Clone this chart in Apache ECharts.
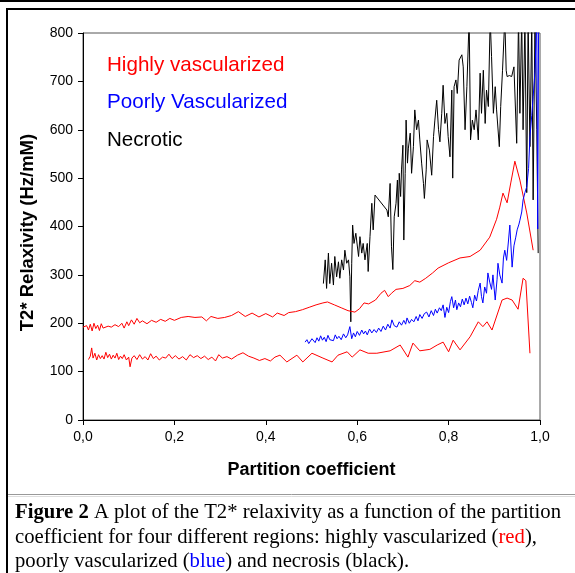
<!DOCTYPE html>
<html>
<head>
<meta charset="utf-8">
<script src="https://cdn.jsdelivr.net/npm/echarts@6/dist/echarts.min.js"></script>
<style>
  html, body { margin: 0; padding: 0; background: #fff; }
  #chart { width: 575px; height: 573px; }
</style>
</head>
<body>
<div id="chart"></div>
<script>
// values: [partition coefficient, relaxivity]
const xTicks = [0, 0.2, 0.4, 0.6, 0.8, 1.0];
const yTicks = [0, 100, 200, 300, 400, 500, 600, 700, 800];

const legendNames = ["Highly vascularized", "Poorly Vascularized", "Necrotic"];
const legendColors = ["#ff0000", "#0000ff", "#000000"];

const highlyUpper = [
  [0.000,192],[0.004,188],[0.008,195],[0.012,186],[0.016,198],[0.020,184],[0.024,200],[0.028,189],
  [0.032,196],[0.036,185],[0.040,199],[0.044,190],[0.048,187],[0.055,194],[0.062,192],[0.070,197],
  [0.078,193],[0.085,200],[0.090,190],[0.096,203],[0.100,195],[0.106,207],[0.112,198],[0.118,210],
  [0.124,201],[0.130,205],[0.140,199],[0.150,206],[0.160,202],[0.170,208],[0.180,204],[0.190,210],
  [0.200,206],[0.215,212],[0.230,214],[0.245,212],[0.260,213],[0.270,205],[0.280,214],[0.295,210],
  [0.310,212],[0.325,216],[0.340,224],[0.355,214],[0.370,221],[0.385,213],[0.400,220],[0.415,213],
  [0.425,221],[0.440,216],[0.450,222],[0.465,224],[0.480,228],[0.495,233],[0.510,238],[0.525,242],
  [0.535,244],[0.550,238],[0.565,232],[0.580,226],[0.595,223],[0.605,230],[0.615,242],[0.625,240],
  [0.640,248],[0.652,262],[0.660,268],[0.668,255],[0.675,262],[0.685,270],[0.700,272],[0.715,278],
  [0.726,288],[0.737,285],[0.750,293],[0.765,304],[0.777,314],[0.800,325],[0.825,335],[0.847,338],
  [0.869,351],[0.890,378],[0.905,415],[0.912,440],[0.919,469],[0.928,449],[0.936,490],[0.945,535],
  [0.956,496],[0.971,428],[0.985,351]
];

const highlyLower = [
  [0.012,125],[0.016,132],[0.019,149],[0.022,128],[0.026,138],[0.030,124],[0.034,135],[0.038,127],
  [0.042,133],[0.046,126],[0.050,140],[0.054,129],[0.058,136],[0.062,126],[0.066,134],[0.070,128],
  [0.074,138],[0.078,125],[0.082,132],[0.086,127],[0.090,135],[0.095,124],[0.100,130],[0.103,110],
  [0.107,128],[0.112,133],[0.118,125],[0.124,135],[0.130,126],[0.136,131],[0.142,124],[0.148,137],
  [0.154,127],[0.160,132],[0.167,124],[0.174,130],[0.181,128],[0.188,136],[0.195,127],[0.202,133],
  [0.210,126],[0.218,131],[0.226,124],[0.234,135],[0.242,129],[0.250,133],[0.258,127],[0.266,132],
  [0.274,125],[0.282,130],[0.290,122],[0.297,135],[0.305,128],[0.315,131],[0.325,126],[0.338,134],
  [0.350,139],[0.362,132],[0.374,128],[0.386,123],[0.398,127],[0.410,122],[0.420,130],[0.431,134],
  [0.446,120],[0.468,134],[0.481,120],[0.501,138],[0.525,128],[0.545,120],[0.558,134],[0.578,141],
  [0.589,130],[0.606,145],[0.624,138],[0.643,138],[0.672,143],[0.694,155],[0.711,130],[0.722,159],
  [0.737,143],[0.759,146],[0.775,155],[0.788,161],[0.800,141],[0.810,165],[0.825,145],[0.847,172],
  [0.865,203],[0.875,193],[0.884,203],[0.895,186],[0.917,248],[0.928,252],[0.939,248],[0.952,229],
  [0.963,293],[0.969,288],[0.978,138]
];

const poorly = [
  [0.486,161],[0.490,166],[0.494,158],[0.497,155],[0.501,168],[0.504,172],[0.508,160],[0.512,170],
  [0.516,163],[0.520,174],[0.524,165],[0.528,171],[0.532,162],[0.536,175],[0.540,166],[0.544,170],
  [0.548,164],[0.552,176],[0.556,168],[0.560,173],[0.565,166],[0.570,178],[0.575,170],[0.579,176],
  [0.584,193],[0.588,168],[0.592,180],[0.596,172],[0.600,183],[0.605,175],[0.610,186],[0.614,178],
  [0.618,184],[0.622,176],[0.627,188],[0.632,180],[0.637,187],[0.642,181],[0.647,190],[0.652,183],
  [0.657,194],[0.662,186],[0.667,198],[0.672,190],[0.676,207],[0.681,195],[0.687,192],[0.692,203],
  [0.697,196],[0.702,206],[0.706,198],[0.709,211],[0.714,200],[0.719,208],[0.724,203],[0.729,214],
  [0.733,205],[0.737,218],[0.742,210],[0.747,220],[0.752,223],[0.757,213],[0.762,226],[0.767,216],
  [0.771,229],[0.775,221],[0.780,232],[0.784,226],[0.788,238],[0.792,212],[0.796,233],[0.800,222],
  [0.804,245],[0.807,255],[0.811,232],[0.815,248],[0.818,228],[0.822,242],[0.826,234],[0.830,250],
  [0.834,238],[0.838,252],[0.842,240],[0.846,256],[0.850,243],[0.853,232],[0.857,258],[0.861,246],
  [0.865,268],[0.869,283],[0.872,255],[0.875,242],[0.879,275],[0.883,262],[0.886,304],[0.890,285],
  [0.894,270],[0.897,300],[0.902,248],[0.906,290],[0.908,324],[0.912,300],[0.917,283],[0.920,335],
  [0.923,351],[0.927,330],[0.931,370],[0.934,403],[0.939,316],[0.943,360],[0.947,378],[0.950,393],
  [0.954,405],[0.956,413],[0.960,430],[0.963,455],[0.967,470],[0.971,482],[0.975,520],[0.978,585],
  [0.982,630],[0.985,668],[0.989,720],[0.993,830],[0.995,395],[0.997,830]
];

const necrotic = [
  [0.526,282],[0.530,331],[0.533,272],[0.537,345],[0.540,282],[0.544,324],[0.548,279],[0.551,338],
  [0.555,296],[0.559,327],[0.562,293],[0.566,331],[0.570,310],[0.573,351],[0.577,324],[0.581,331],
  [0.584,296],[0.586,203],[0.588,324],[0.590,403],[0.593,365],[0.597,386],[0.603,338],[0.606,379],
  [0.610,345],[0.613,365],[0.617,331],[0.622,365],[0.624,307],[0.628,379],[0.632,448],[0.635,393],
  [0.639,465],[0.665,434],[0.668,420],[0.672,489],[0.675,358],[0.678,311],[0.681,420],[0.685,448],
  [0.688,496],[0.690,420],[0.692,510],[0.695,462],[0.697,517],[0.700,568],[0.702,372],[0.705,510],
  [0.707,620],[0.710,531],[0.712,562],[0.716,593],[0.719,510],[0.723,565],[0.726,641],[0.730,600],
  [0.734,620],[0.737,579],[0.741,531],[0.745,489],[0.747,458],[0.751,517],[0.753,579],[0.758,558],
  [0.763,506],[0.767,586],[0.770,620],[0.774,661],[0.778,600],[0.781,575],[0.785,634],[0.788,692],
  [0.792,613],[0.796,634],[0.799,586],[0.803,544],[0.807,682],[0.809,500],[0.812,689],[0.816,703],
  [0.819,675],[0.823,744],[0.829,755],[0.832,730],[0.836,600],[0.840,689],[0.845,830],[0.848,579],
  [0.852,620],[0.856,600],[0.860,641],[0.865,579],[0.869,717],[0.872,634],[0.876,723],[0.880,613],
  [0.883,682],[0.887,648],[0.891,830],[0.894,751],[0.898,634],[0.902,689],[0.905,641],[0.911,565],
  [0.914,648],[0.918,723],[0.923,830],[0.926,723],[0.928,710],[0.933,712],[0.938,710],[0.943,730],
  [0.949,572],[0.953,830],[0.956,634],[0.960,830],[0.963,600],[0.967,830],[0.971,470],[0.974,830],
  [0.978,565],[0.982,830],[0.985,455],[0.989,830],[0.993,600],[0.996,345]
];

const captionLines = [
  "{b|Figure 2} A plot of the T2* relaxivity as a function of the partition",
  "coefficient for four different regions: highly vascularized ({r|red}),",
  "poorly vascularized ({bl|blue}) and necrosis (black)."
];

const sans = "'Liberation Sans', Arial, sans-serif";
const serif = "'Liberation Serif', 'Times New Roman', serif";
const capSize = 20.7;

const chart = echarts.init(document.getElementById("chart"), null, { renderer: "canvas" });

function lineSeries(name, data, color) {
  return {
    name: name,
    type: "line",
    data: data,
    showSymbol: false,
    clip: true,
    lineStyle: { color: color, width: 1 },
    itemStyle: { color: color },
    animation: false
  };
}

const captionRich = {
  b: { fontFamily: serif, fontSize: capSize, fontWeight: "bold", fill: "#000" },
  r: { fontFamily: serif, fontSize: capSize, fill: "#ff0000" },
  bl: { fontFamily: serif, fontSize: capSize, fill: "#0000ff" }
};

chart.setOption({
  animation: false,
  backgroundColor: "#fff",
  grid: {
    left: 83, right: 35, top: 33, bottom: 153,
    show: true, borderColor: "#555", borderWidth: 1
  },
  xAxis: {
    type: "value",
    min: xTicks[0],
    max: xTicks[xTicks.length - 1],
    interval: 0.2,
    name: "Partition coefficient",
    nameLocation: "middle",
    nameGap: 41,
    nameTextStyle: { fontFamily: sans, fontSize: 18, fontWeight: "bold", color: "#000", verticalAlign: "top" },
    axisLine: { lineStyle: { color: "#000", width: 1 } },
    axisTick: { show: true, length: 5, lineStyle: { color: "#000" } },
    axisLabel: {
      fontFamily: sans, fontSize: 14, color: "#000", margin: 10,
      formatter: (v) => v.toFixed(1).replace(".", ",")
    },
    splitLine: { show: false }
  },
  yAxis: {
    type: "value",
    min: yTicks[0],
    max: yTicks[yTicks.length - 1],
    interval: 100,
    name: "T2* Relaxivity (Hz/mM)",
    nameLocation: "middle",
    nameGap: 46,
    nameTextStyle: {
      fontFamily: sans, fontSize: 18.5, fontWeight: "bold", color: "#000",
      padding: [0, 12, 0, 0]
    },
    axisLine: { show: true, lineStyle: { color: "#000", width: 1 } },
    axisTick: { show: true, length: 5, lineStyle: { color: "#000" } },
    axisLabel: { fontFamily: sans, fontSize: 14, color: "#000", margin: 10 },
    splitLine: { show: false }
  },
  series: [
    lineSeries(legendNames[2], necrotic, legendColors[2]),
    lineSeries(legendNames[0], highlyUpper, legendColors[0]),
    lineSeries(legendNames[0] + " low", highlyLower, legendColors[0]),
    lineSeries(legendNames[1], poorly, legendColors[1])
  ],
  graphic: [
    // page frame
    { type: "line", shape: { x1: 0, y1: 1, x2: 575, y2: 1 }, style: { stroke: "#000", lineWidth: 2 } },
    { type: "line", shape: { x1: 6, y1: 9, x2: 575, y2: 9 }, style: { stroke: "#000", lineWidth: 2 } },
    { type: "line", shape: { x1: 7, y1: 8, x2: 7, y2: 573 }, style: { stroke: "#000", lineWidth: 2 } },
    { type: "line", shape: { x1: 8, y1: 494.5, x2: 575, y2: 494.5 }, style: { stroke: "#999", lineWidth: 1 } },
    { type: "line", shape: { x1: 8, y1: 496.5, x2: 575, y2: 496.5 }, style: { stroke: "#ddd", lineWidth: 1 } },
    // legend labels
    ...legendNames.map((name, i) => ({
      type: "text",
      style: {
        text: name, x: 107, y: 65 + i * 37.5,
        font: "20.6px " + sans, fill: legendColors[i],
        align: "left", verticalAlign: "middle"
      }
    })),
    // caption
    ...captionLines.map((line, i) => ({
      type: "text",
      style: {
        text: line, x: 15, y: 513 + i * 24.5,
        font: capSize + "px " + serif, fill: "#000",
        align: "left", verticalAlign: "middle",
        rich: captionRich
      }
    }))
  ]
});
</script>
</body>
</html>
